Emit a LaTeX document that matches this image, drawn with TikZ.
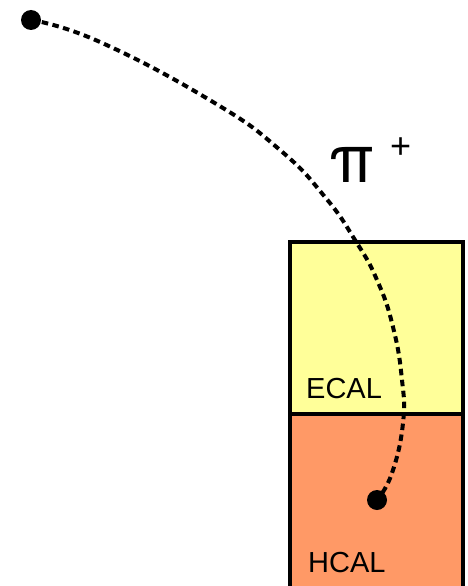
\documentclass[tikz,border=0pt]{standalone}
\usepackage{fontspec}
\setmainfont{Liberation Sans}
\newfontfamily\greekfont{TeX Gyre Heros}
\begin{document}
\begin{tikzpicture}[x=1pt,y=-1pt,
  calbox/.style={draw=black,line width=3.5pt},
  vertexdot/.style={circle,fill=black,inner sep=0pt,minimum size=20pt},
  track/.style={line width=4pt,dash pattern=on 6.5pt off 4.5pt},
  callabel/.style={anchor=base west,inner sep=0pt,font=\fontsize{29}{29}\selectfont}]
  \useasboundingbox (0,0) rectangle (467,586);
  \definecolor{ecalyellow}{RGB}{255,255,153}
  \definecolor{hcalorange}{RGB}{255,153,102}

  % calorimeter blocks
  \draw[calbox,fill=hcalorange] (290,414) rectangle (463,600);
  \draw[calbox,fill=ecalyellow] (290,242) rectangle (463,414);
  \node[callabel] (ecal) at (306,398) {ECAL};
  \node[callabel] (hcal) at (308,572) {HCAL};

  % pion track from the vertex to its stopping point
  \node[vertexdot] (start) at (31,20) {};
  \node[vertexdot] (stop) at (377,500) {};
  \draw[track] plot[smooth,tension=0.8] coordinates {
    (start.center) (100,42) (213,102) (280,150) (325,197) (355,240)
    (377,280) (393,327) (402,380) (403,423) (392,473) (stop.center)};

  % particle label
  \node[anchor=base west,inner sep=0pt,font=\greekfont\fontsize{67}{67}\selectfont] (pi) at (329,182) {π};
  \node[anchor=base west,inner sep=0pt,font=\fontsize{36}{36}\selectfont] (plus) at (390,158) {+};
\end{tikzpicture}
\end{document}
